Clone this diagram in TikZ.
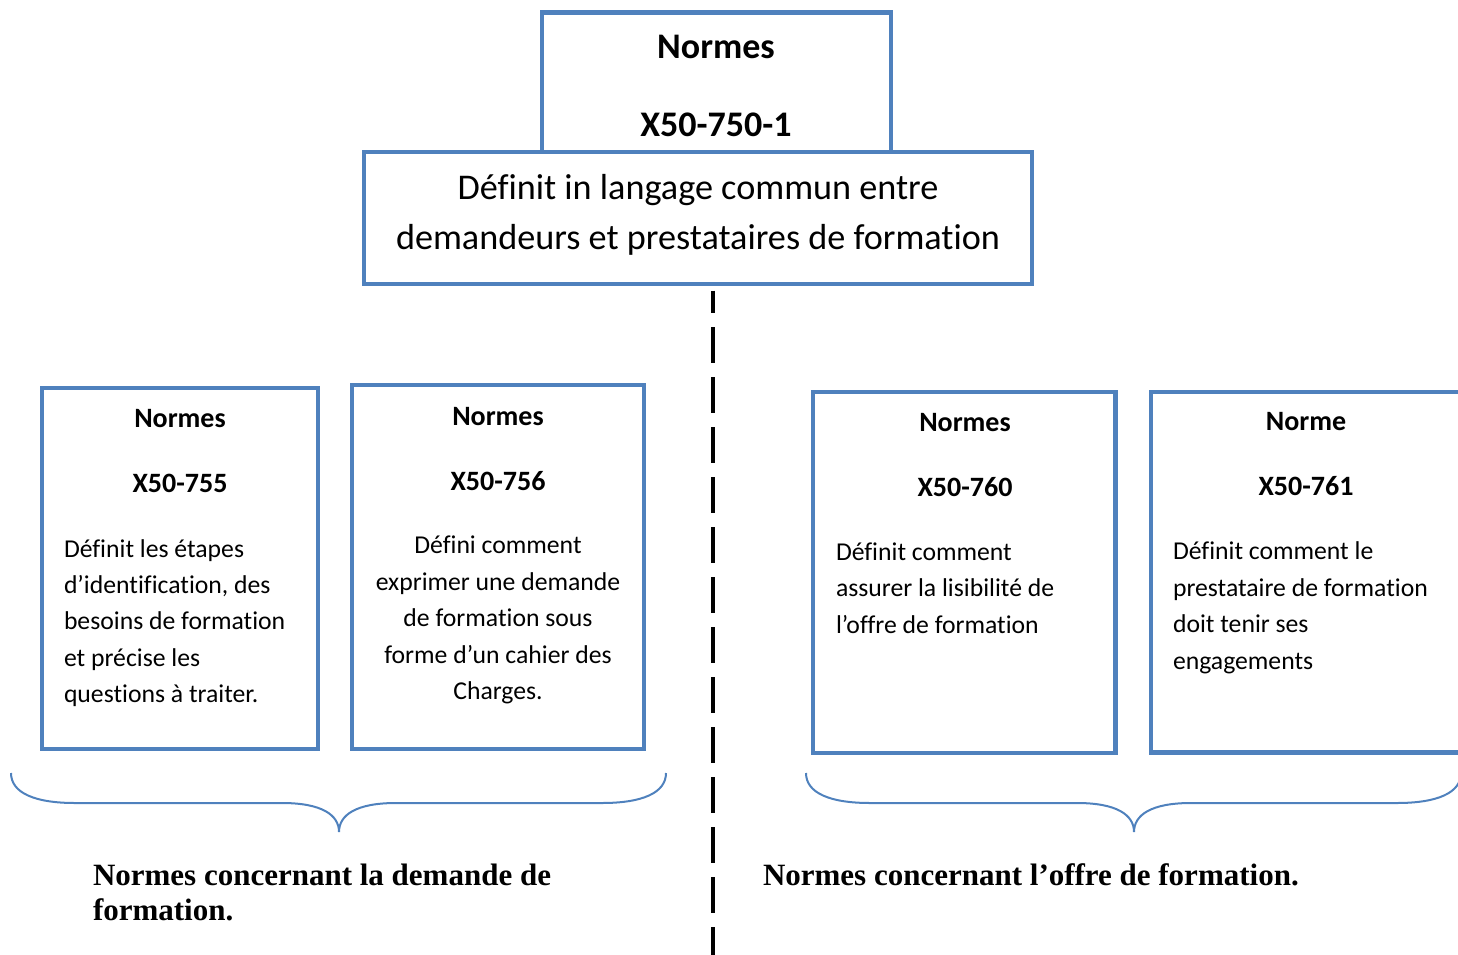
\documentclass[tikz,border=0pt]{standalone}
\usepackage{fontspec}
\setmainfont{Carlito}[Ligatures=CommonOff]
\newfontfamily\captionserif{Liberation Serif}
\definecolor{boxblue}{RGB}{79,129,189}
\begin{document}
\begin{tikzpicture}[x=1pt,y=-1pt,
  nbox/.style={draw=boxblue,line width=4.3pt,fill=white,inner sep=0pt,rectangle},
  txt/.style={inner sep=0pt,outer sep=0pt},
  toptitle/.style={txt,font=\fontsize{36}{40}\selectfont\bfseries,anchor=base},
  topline/.style={txt,font=\fontsize{36.2}{40}\selectfont,anchor=base},
  ttl/.style={txt,font=\fontsize{28}{32}\selectfont\bfseries,anchor=base},
  body/.style={txt,font=\fontsize{25.7}{31}\selectfont,anchor=base west},
  bodyc/.style={txt,font=\fontsize{25.7}{31}\selectfont,anchor=base},
  bracket/.style={draw=boxblue,line width=2pt},
  divider/.style={line width=4.7pt,dash pattern=on 35.6pt off 14.4pt,dash phase=13.6pt},
  caption/.style={txt,font=\fontsize{31}{35}\selectfont\captionserif\bfseries,anchor=base west}]

\useasboundingbox (0,0) rectangle (1458,955);
\clip (0,0) rectangle (1458,955);

% headline boxes
\node[nbox,minimum width=349.6pt,minimum height=139.5pt] (top1) at (716.5,82.25) {};
\node[nbox,minimum width=668pt,minimum height=131.8pt] (top2) at (698,217.9) {};
\node[toptitle] (t1a) at (716,59) {Normes};
\node[toptitle] (t1b) at (716,136) {X50-750-1};
\node[topline] (t2a) at (698,199) {Définit in langage commun entre};
\node[topline] (t2b) at (698,249) {demandeurs et prestataires de formation};

% vertical divider
\coordinate (dtop) at (713,290.7);
\coordinate (dbot) at (713,962);
\draw[divider] (dtop) -- (dbot);

% norm boxes
\node[nbox,minimum width=276.3pt,minimum height=360.7pt] (boxA) at (179.85,568.35) {};
\node[nbox,minimum width=292.1pt,minimum height=363.4pt] (boxB) at (497.75,567) {};
\node[nbox,minimum width=302.5pt,minimum height=360.8pt] (boxC) at (964.25,572.4) {};
\node[nbox,minimum width=329.2pt,minimum height=360.8pt] (boxD) at (1315.4,572.1) {};

% X50-755
\node[ttl] (aT) at (180,427) {Normes};
\node[ttl] (aN) at (180,492) {X50-755};
\foreach \t [count=\i] in {Définit les étapes,{d’identification, des},besoins de formation,et précise les,questions à traiter.}
  \node[body] (a\i) at (64,{557+36.4*(\i-1)}) {\t};

% X50-756
\node[ttl] (bT) at (498,425) {Normes};
\node[ttl] (bN) at (498,490) {X50-756};
\foreach \t [count=\i] in {Défini comment,exprimer une demande,de formation sous,forme d’un cahier des,Charges.}
  \node[bodyc] (b\i) at (498,{553.5+36.6*(\i-1)}) {\t};

% X50-760
\node[ttl] (cT) at (965,431.7) {Normes};
\node[ttl] (cN) at (965,496.7) {X50-760};
\foreach \t [count=\i] in {Définit comment,assurer la lisibilité de,l’offre de formation}
  \node[body] (c\i) at (836,{560+36.5*(\i-1)}) {\t};

% X50-761
\node[ttl] (dT) at (1306,430) {Norme};
\node[ttl] (dN) at (1306,495) {X50-761};
\foreach \t [count=\i] in {Définit comment le,prestataire de formation,doit tenir ses,engagements}
  \node[body] (d\i) at (1173,{559.5+36.5*(\i-1)}) {\t};

% grouping braces
\draw[bracket] (11,773) .. controls (11,793) and (35,803) .. (75,803) -- (282,803)
  .. controls (322,803) and (339,815) .. (339,832)
  .. controls (339,815) and (356,803) .. (396,803) -- (602,803)
  .. controls (642,803) and (666,793) .. (666,773);
\begin{scope}[xshift=795pt]
\draw[bracket] (11,773) .. controls (11,793) and (35,803) .. (75,803) -- (282,803)
  .. controls (322,803) and (339,815) .. (339,832)
  .. controls (339,815) and (356,803) .. (396,803) -- (602,803)
  .. controls (642,803) and (666,793) .. (666,773);
\end{scope}

% captions
\node[caption] (capL1) at (93,885) {Normes concernant la demande de};
\node[caption] (capL2) at (93,920) {formation.};
\node[caption] (capR) at (763,885) {Normes concernant l’offre de formation.};
\end{tikzpicture}
\end{document}
